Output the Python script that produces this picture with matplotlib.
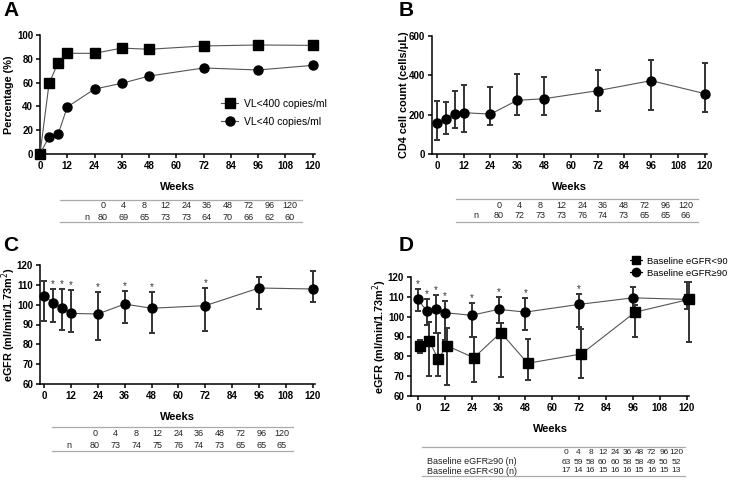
import numpy as np
import matplotlib
matplotlib.use("Agg")
import matplotlib.pyplot as plt
from matplotlib.lines import Line2D

plt.rcParams['font.family'] = ['Liberation Sans', 'DejaVu Sans']

W, H = 733, 483

weeks = [0, 4, 8, 12, 24, 36, 48, 72, 96, 120]

# panel A: virological response (%)
vl400 = [0, 59.4, 76.8, 84.6, 84.6, 89, 88, 90.8, 91.6, 91.3]
vl40 = [0, 14.6, 16.8, 39.5, 54.6, 59.4, 65.5, 72.3, 70.6, 74.5]
n_a = [80, 69, 65, 73, 73, 64, 70, 66, 62, 60]

# panel B: CD4 count, mean with error range
cd4 = [157, 180, 205, 210, 203, 273, 281, 322, 373, 307]
cd4_lo = [69, 100, 134, 114, 146, 197, 200, 220, 222, 215]
cd4_hi = [271, 263, 322, 353, 342, 405, 390, 427, 478, 462]
n_b = [80, 72, 73, 73, 76, 74, 73, 65, 65, 66]

# panel C: eGFR overall
egfr = [104.5, 101, 98.5, 95.6, 95.3, 100.3, 98.2, 99.5, 108.4, 107.9]
egfr_lo = [91.8, 91.1, 87.4, 86, 82.4, 90.6, 85.5, 86.7, 97.8, 101.2]
egfr_hi = [112.1, 107.7, 107.9, 107.4, 106.2, 107, 106.2, 108.6, 114.1, 117]
star_c = [False, True, True, True, True, True, True, True, False, False]
n_c = [80, 73, 74, 75, 76, 74, 73, 65, 65, 65]

# panel D: eGFR by baseline group
weeks_lt90 = [1, 5, 9, 13, 25, 37, 49, 73, 97, 121]
egfr_ge90 = [108.7, 102.7, 104, 102, 100.7, 103.7, 102.3, 106.2, 109.5, 108.7]
egfr_ge90_lo = [102.7, 95.7, 92, 88, 89.8, 97, 93.2, 95, 104.5, 104]
egfr_ge90_hi = [114, 109, 110.8, 107.8, 107, 110, 109.5, 111.2, 115, 117.3]
egfr_lt90 = [85.3, 87.8, 78.7, 85.3, 79.3, 92, 76.5, 81.2, 102.3, 108.7]
egfr_lt90_lo = [81.5, 70.3, 70.3, 65.7, 67, 69.5, 68.2, 69, 89.5, 87]
egfr_lt90_hi = [88, 97.3, 92, 94.5, 89.8, 97, 88.7, 93.7, 106, 117.3]
star_d = [True, True, True, True, True, True, True, True, False, False]
n_d_ge90 = [63, 59, 58, 60, 60, 58, 58, 49, 50, 52]
n_d_lt90 = [17, 14, 16, 15, 16, 16, 15, 16, 15, 13]

xticks = list(range(0, 121, 12))
LINE = "#555555"
ERR = "#333333"
TICK_FS = 7
YLAB_FS = 7.8


def fx(px):
    return px / W


def fy(py):
    return 1 - py / H


def add_axes(fig, left, right, top, bottom):
    ax = fig.add_axes([fx(left), fy(bottom), fx(right - left), (bottom - top) / H])
    for s in ("top", "right"):
        ax.spines[s].set_visible(False)
    for s in ("left", "bottom"):
        ax.spines[s].set_linewidth(1.1)
    ax.tick_params(length=3, width=1.1, labelsize=TICK_FS, pad=2)
    ax.set_xticks(xticks)
    ax.set_xticklabels([str(t) for t in xticks], fontweight="bold")
    return ax


def set_y(ax, lo, hi, step, label, xlab):
    ticks = list(range(lo, hi + 1, step))
    ax.set_ylim(lo, hi)
    ax.set_yticks(ticks)
    ax.set_yticklabels([str(v) for v in ticks], fontweight="bold")
    ax.set_ylabel(label, fontsize=YLAB_FS, fontweight="bold")
    ax.yaxis.set_label_coords(xlab, 0.5)
    ax.set_xlabel("Weeks", fontsize=8, fontweight="bold", labelpad=8)


def err_series(ax, x, y, lo, hi, marker):
    yerr = [np.array(y) - np.array(lo), np.array(hi) - np.array(y)]
    ax.errorbar(x, y, yerr=yerr, fmt="none", ecolor=ERR, elinewidth=1.4,
                capsize=2.5, capthick=1.4, zorder=2, clip_on=False)
    ax.plot(x, y, "-", color=LINE, lw=0.8, marker=marker, ms=6.5, mfc="black",
            mec="black", zorder=3, clip_on=False)


def stars(ax, x, hi, flags):
    for xi, h, f in zip(x, hi, flags):
        if f:
            ax.annotate("*", (xi, h), xytext=(0, 0), textcoords="offset points",
                        ha="center", va="bottom", fontsize=7, color="#333333")


def table(fig, x0, x1, ylines, rowy, labx, colx0, colx1, rows, left_align=False, fs=6.5):
    for yl in ylines:
        fig.add_artist(Line2D([fx(x0), fx(x1)], [fy(yl), fy(yl)], color="#aaaaaa", lw=0.9))
    cols = np.linspace(colx0, colx1, len(weeks))
    for c, w in zip(cols, weeks):
        fig.text(fx(c), fy(rowy[0]), str(w), ha="center", va="center", fontsize=fs, color="#222222")
    for (lab, vals), ry in zip(rows, rowy[1:]):
        fig.text(fx(labx), fy(ry), lab, ha="left" if left_align else "center",
                 va="center", fontsize=6.5, color="#222222")
        for c, v in zip(cols, vals):
            fig.text(fx(c), fy(ry), str(v), ha="center", va="center", fontsize=fs, color="#222222")


fig = plt.figure(figsize=(W / 100, H / 100), dpi=100)

# ---- A
axA = add_axes(fig, 40, 315, 35, 154)
axA.plot(weeks, vl400, "-", color=LINE, lw=0.8, marker="s", ms=6.5, mfc="black",
         mec="black", clip_on=False, zorder=3, label="VL<400 copies/ml")
axA.plot(weeks, vl40, "-", color=LINE, lw=0.8, marker="o", ms=6.5, mfc="black",
         mec="black", clip_on=False, zorder=3, label="VL<40 copies/ml")
axA.set_xlim(0, 121)
set_y(axA, 0, 100, 20, "Percentage (%)", -0.095)
axA.legend(loc="upper left", bbox_to_anchor=(0.64, 0.505), frameon=False, fontsize=7.5,
           handlelength=1.6, handletextpad=0.6, labelspacing=0.75, borderpad=0)
table(fig, 60, 302, [200, 222], [206, 217], 87, 103, 290, [("n", n_a)])

# ---- B
axB = add_axes(fig, 432, 707, 36, 154)
err_series(axB, weeks, cd4, cd4_lo, cd4_hi, "o")
axB.set_xlim(-2.2, 121)
set_y(axB, 0, 600, 200, "CD4 cell count (cells/μL)", -0.084)
table(fig, 456, 698, [199, 222], [205, 216], 476, 499, 686, [("n", n_b)])

# ---- C
axC = add_axes(fig, 40, 315, 265, 384)
err_series(axC, weeks, egfr, egfr_lo, egfr_hi, "o")
stars(axC, weeks, egfr_hi, star_c)
axC.set_xlim(-1.8, 121)
set_y(axC, 60, 120, 10, "eGFR (ml/min/1.73m$^2$)", -0.08)
table(fig, 52, 293, [427, 451], [434, 446], 69, 95, 282, [("n", n_c)])

# ---- D
axD = add_axes(fig, 411, 689, 277, 396)
err_series(axD, weeks_lt90, egfr_lt90, egfr_lt90_lo, egfr_lt90_hi, "s")
err_series(axD, weeks, egfr_ge90, egfr_ge90_lo, egfr_ge90_hi, "o")
stars(axD, weeks, egfr_ge90_hi, star_d)
axD.set_xlim(-3.1, 121)
set_y(axD, 60, 120, 10, "eGFR (ml/min/1.73m$^2$)", -0.079)
hD = [Line2D([], [], color="black", lw=0.8, marker="s", ms=6, mfc="black"),
      Line2D([], [], color="black", lw=0.8, marker="o", ms=6, mfc="black")]
fig.legend(hD, ["Baseline eGFR<90", "Baseline eGFR≥90"], loc="upper left",
           bbox_to_anchor=(fx(625), fy(252)), frameon=False, fontsize=6.8,
           handlelength=1.3, handletextpad=0.5, labelspacing=0.3, borderpad=0)
table(fig, 422, 685, [447, 476], [452, 462, 471], 427, 566, 676,
      [("Baseline eGFR≥90 (n)", n_d_ge90), ("Baseline eGFR<90 (n)", n_d_lt90)],
      left_align=True, fs=6)

# panel letters
for letter, (px, py) in zip("ABCD", [(3, 11), (399, 11), (3, 245), (399, 245)]):
    fig.text(fx(px), fy(py), letter, fontsize=15, fontweight="bold", ha="left", va="center")

fig.savefig("out.png", dpi=100)
